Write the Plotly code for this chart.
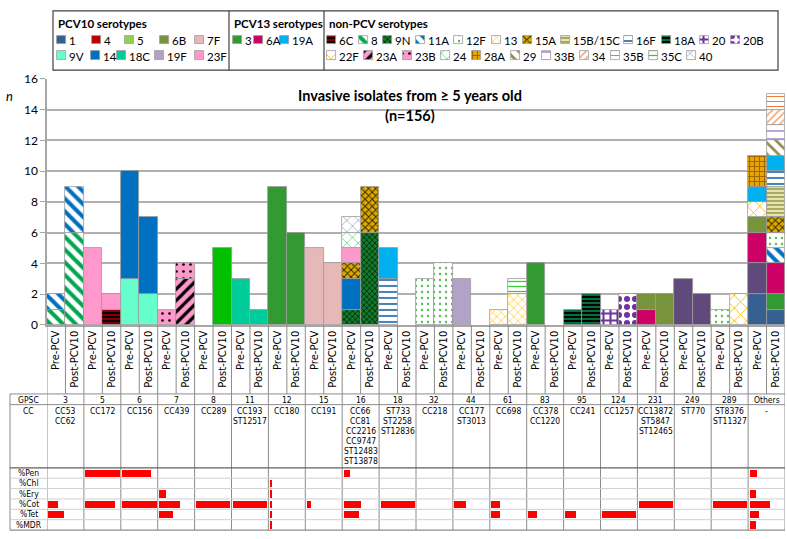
import plotly.graph_objects as go

W, H = 787, 539

# ---------------- data ----------------
groups = ["3", "5", "6", "7", "8", "11", "12", "15", "16", "18", "32", "44",
          "61", "83", "95", "124", "231", "249", "289", "Others"]
periods = ["Pre-PCV", "Post-PCV10"]
cc_labels = [
    ["CC53", "CC62"], ["CC172"], ["CC156"], ["CC439"], ["CC289"], ["CC193", "ST12517"],
    ["CC180"], ["CC191"], ["CC66", "CC81", "CC2216", "CC9747", "ST12483", "ST13878"],
    ["ST733", "ST2258", "ST12836"], ["CC218"], ["CC177", "ST3013"], ["CC698"],
    ["CC378", "CC1220"], ["CC241"], ["CC1257"], ["CC13872", "ST5847", "ST12465"],
    ["ST770"], ["ST8376", "ST11327"], ["-"],
]

# isolate counts per bar: (Pre, Post) pairs for GPSC
#        3    5    6    7    8    11   12   15   16   18   32   44   61   83   95   124  231  249  289  Oth
s_1   = [0,0, 0,0, 0,0, 0,0, 0,0, 0,0, 0,0, 0,0, 0,0, 0,0, 0,0, 0,0, 0,0, 0,0, 0,0, 0,0, 0,0, 0,0, 0,0, 2,1]
s_dp  = [0,0, 0,0, 0,0, 0,0, 0,0, 0,0, 0,0, 0,0, 0,0, 0,0, 0,0, 0,0, 0,0, 0,0, 0,0, 0,0, 0,0, 3,2, 0,0, 2,0]
s_3   = [0,0, 0,0, 0,0, 0,0, 0,0, 0,0, 9,6, 0,0, 0,0, 0,0, 0,0, 0,0, 0,0, 4,0, 0,0, 0,0, 0,0, 0,0, 0,0, 0,1]
s_9V  = [0,0, 0,0, 3,2, 0,0, 0,0, 0,0, 0,0, 0,0, 0,0, 0,0, 0,0, 0,0, 0,0, 0,0, 0,0, 0,0, 0,0, 0,0, 0,0, 0,0]
s_8   = [1,6, 0,0, 0,0, 0,0, 0,0, 0,0, 0,0, 0,0, 0,0, 0,0, 0,0, 0,0, 0,0, 0,0, 0,0, 0,0, 0,0, 0,0, 0,0, 0,0]
s_6A  = [0,0, 0,0, 0,0, 0,0, 0,0, 0,0, 0,0, 0,0, 0,0, 0,0, 0,0, 0,0, 0,0, 0,0, 0,0, 0,0, 1,0, 0,0, 0,0, 2,2]
s_6B  = [0,0, 0,0, 0,0, 0,0, 0,0, 0,0, 0,0, 0,0, 0,0, 0,0, 0,0, 0,0, 0,0, 0,0, 0,0, 0,0, 1,2, 0,0, 0,0, 1,0]
s_6C  = [0,0, 0,1, 0,0, 0,0, 0,0, 0,0, 0,0, 0,0, 0,0, 0,0, 0,0, 0,0, 0,0, 0,0, 0,0, 0,0, 0,0, 0,0, 0,0, 0,0]
s_9N  = [0,0, 0,0, 0,0, 0,0, 0,0, 0,0, 0,0, 0,0, 1,6, 0,0, 0,0, 0,0, 0,0, 0,0, 0,0, 0,0, 0,0, 0,0, 0,0, 0,0]
s_14  = [0,0, 0,0, 7,5, 0,0, 0,0, 0,0, 0,0, 0,0, 2,0, 0,0, 0,0, 0,0, 0,0, 0,0, 0,0, 0,0, 0,0, 0,0, 0,0, 0,0]
s_11A = [1,3, 0,0, 0,0, 0,0, 0,0, 0,0, 0,0, 0,0, 0,0, 0,0, 0,0, 0,0, 0,0, 0,0, 0,0, 0,0, 0,0, 0,0, 0,0, 0,1]
s_12F = [0,0, 0,0, 0,0, 0,0, 0,0, 0,0, 0,0, 0,0, 0,0, 0,0, 3,4, 0,0, 0,0, 0,0, 0,0, 0,0, 0,0, 0,0, 1,0, 0,1]
s_13  = [0,0, 0,0, 0,0, 0,0, 0,0, 0,0, 0,0, 0,0, 0,0, 0,0, 0,0, 0,0, 1,2, 0,0, 0,0, 0,0, 0,0, 0,0, 0,0, 0,0]
s_15A = [0,0, 0,0, 0,0, 0,0, 0,0, 0,0, 0,0, 0,0, 1,3, 0,0, 0,0, 0,0, 0,0, 0,0, 0,0, 0,0, 0,0, 0,0, 0,0, 0,1]
s_15BC= [0,0, 0,0, 0,0, 0,0, 0,0, 0,0, 0,0, 0,0, 0,0, 0,0, 0,0, 0,0, 0,0, 0,0, 0,0, 0,0, 0,0, 0,0, 0,0, 0,2]
s_16F = [0,0, 0,0, 0,0, 0,0, 0,0, 0,0, 0,0, 0,0, 0,0, 3,0, 0,0, 0,0, 0,0, 0,0, 0,0, 0,0, 0,0, 0,0, 0,0, 0,1]
s_22F = [0,0, 0,0, 0,0, 0,0, 0,0, 0,0, 0,0, 0,0, 0,0, 0,0, 0,0, 0,0, 0,0, 0,0, 0,0, 0,0, 0,0, 0,0, 0,2, 1,0]
s_19A = [0,0, 0,0, 0,0, 0,0, 0,0, 0,0, 0,0, 0,0, 0,0, 2,0, 0,0, 0,0, 0,0, 0,0, 0,0, 0,0, 0,0, 0,0, 0,0, 1,1]
s_23A = [0,0, 0,0, 0,0, 0,3, 0,0, 0,0, 0,0, 0,0, 0,0, 0,0, 0,0, 0,0, 0,0, 0,0, 0,0, 0,0, 0,0, 0,0, 0,0, 0,0]
s_23B = [0,0, 0,0, 0,0, 1,1, 0,0, 0,0, 0,0, 0,0, 0,0, 0,0, 0,0, 0,0, 0,0, 0,0, 0,0, 0,0, 0,0, 0,0, 0,0, 0,0]
s_23F = [0,0, 5,1, 0,0, 0,0, 0,0, 0,0, 0,0, 0,0, 1,0, 0,0, 0,0, 0,0, 0,0, 0,0, 0,0, 0,0, 0,0, 0,0, 0,0, 0,0]
s_24  = [0,0, 0,0, 0,0, 0,0, 0,0, 0,0, 0,0, 0,0, 1,0, 0,0, 0,0, 0,0, 0,0, 0,0, 0,0, 0,0, 0,0, 0,0, 0,0, 0,0]
s_40  = [0,0, 0,0, 0,0, 0,0, 0,0, 0,0, 0,0, 0,0, 1,0, 0,0, 0,0, 0,0, 0,0, 0,0, 0,0, 0,0, 0,0, 0,0, 0,0, 0,0]
s_28A = [0,0, 0,0, 0,0, 0,0, 0,0, 0,0, 0,0, 0,0, 0,0, 0,0, 0,0, 0,0, 0,0, 0,0, 0,0, 0,0, 0,0, 0,0, 0,0, 2,0]
s_29  = [0,0, 0,0, 0,0, 0,0, 0,0, 0,0, 0,0, 0,0, 0,0, 0,0, 0,0, 0,0, 0,0, 0,0, 0,0, 0,0, 0,0, 0,0, 0,0, 0,1]
s_33B = [0,0, 0,0, 0,0, 0,0, 0,0, 0,0, 0,0, 0,0, 0,0, 0,0, 0,0, 0,0, 0,0, 0,0, 0,0, 0,0, 0,0, 0,0, 0,0, 0,1]
s_34  = [0,0, 0,0, 0,0, 0,0, 0,0, 0,0, 0,0, 0,0, 0,0, 0,0, 0,0, 0,0, 0,0, 0,0, 0,0, 0,0, 0,0, 0,0, 0,0, 0,1]
s_35B = [0,0, 0,0, 0,0, 0,0, 0,0, 0,0, 0,0, 0,0, 0,0, 0,0, 0,0, 0,0, 0,0, 0,0, 0,0, 0,0, 0,0, 0,0, 0,0, 0,1]
s_35C = [0,0, 0,0, 0,0, 0,0, 0,0, 0,0, 0,0, 0,0, 0,0, 0,0, 0,0, 0,0, 0,1, 0,0, 0,0, 0,0, 0,0, 0,0, 0,0, 0,0]
s_5   = [0,0, 0,0, 0,0, 0,0, 0,5, 0,0, 0,0, 0,0, 0,0, 0,0, 0,0, 0,0, 0,0, 0,0, 0,0, 0,0, 0,0, 0,0, 0,0, 0,0]
s_7F  = [0,0, 0,0, 0,0, 0,0, 0,0, 0,0, 0,0, 5,4, 0,0, 0,0, 0,0, 0,0, 0,0, 0,0, 0,0, 0,0, 0,0, 0,0, 0,0, 0,0]
s_18A = [0,0, 0,0, 0,0, 0,0, 0,0, 0,0, 0,0, 0,0, 0,0, 0,0, 0,0, 0,0, 0,0, 0,0, 1,2, 0,0, 0,0, 0,0, 0,0, 0,0]
s_18C = [0,0, 0,0, 0,0, 0,0, 0,0, 3,1, 0,0, 0,0, 0,0, 0,0, 0,0, 0,0, 0,0, 0,0, 0,0, 0,0, 0,0, 0,0, 0,0, 0,0]
s_19F = [0,0, 0,0, 0,0, 0,0, 0,0, 0,0, 0,0, 0,0, 0,0, 0,0, 0,0, 3,0, 0,0, 0,0, 0,0, 0,0, 0,0, 0,0, 0,0, 0,0]
s_20  = [0,0, 0,0, 0,0, 0,0, 0,0, 0,0, 0,0, 0,0, 0,0, 0,0, 0,0, 0,0, 0,0, 0,0, 0,0, 1,0, 0,0, 0,0, 0,0, 0,0]
s_20B = [0,0, 0,0, 0,0, 0,0, 0,0, 0,0, 0,0, 0,0, 0,0, 0,0, 0,0, 0,0, 0,0, 0,0, 0,0, 0,2, 0,0, 0,0, 0,0, 0,0]

# stacking order, bottom to top
stack = [("1", s_1), ("DP", s_dp), ("3", s_3), ("9V", s_9V), ("8", s_8), ("6A", s_6A),
         ("6B", s_6B), ("6C", s_6C), ("9N", s_9N), ("14", s_14), ("11A", s_11A),
         ("12F", s_12F), ("13", s_13), ("15A", s_15A), ("15B/15C", s_15BC), ("16F", s_16F),
         ("22F", s_22F), ("19A", s_19A), ("23A", s_23A), ("23B", s_23B), ("23F", s_23F),
         ("24", s_24), ("40", s_40), ("28A", s_28A), ("29", s_29), ("33B", s_33B),
         ("34", s_34), ("35B", s_35B), ("35C", s_35C), ("5", s_5), ("7F", s_7F),
         ("18A", s_18A), ("18C", s_18C), ("19F", s_19F), ("20", s_20), ("20B", s_20B)]

# antimicrobial non-susceptibility (% of isolates per GPSC)
drugs = ["%Pen", "%Chl", "%Ery", "%Cot", "%Tet", "%MDR"]
pct_pen = [0, 100, 85, 0, 0, 0, 0, 0, 17, 0, 0, 0, 0, 0, 0, 0, 0, 0, 0, 23]
pct_chl = [0, 0, 0, 0, 0, 0, 7, 0, 0, 0, 0, 0, 0, 0, 0, 0, 0, 0, 0, 0]
pct_ery = [0, 0, 0, 20, 0, 0, 7, 0, 0, 0, 0, 0, 0, 0, 0, 0, 0, 0, 0, 20]
pct_cot = [27, 86, 100, 60, 100, 100, 7, 11, 50, 100, 0, 33, 25, 0, 0, 0, 100, 0, 100, 60]
pct_tet = [45, 0, 0, 40, 0, 0, 7, 0, 44, 0, 0, 0, 25, 25, 33, 100, 0, 0, 0, 27]
pct_mdr = [0, 0, 0, 0, 0, 0, 7, 0, 0, 0, 0, 0, 0, 0, 0, 0, 0, 0, 0, 20]
pct_rows = [pct_pen, pct_chl, pct_ery, pct_cot, pct_tet, pct_mdr]

# legend content
pcv10_rows = [["1", "4", "5", "6B", "7F"], ["9V", "14", "18C", "19F", "23F"]]
pcv13_rows = [["3", "6A", "19A"]]
nonpcv_rows = [["6C", "8", "9N", "11A", "12F", "13", "15A", "15B/15C", "16F", "18A", "20", "20B"],
               ["22F", "23A", "23B", "24", "28A", "29", "33B", "34", "35B", "35C", "40"]]

# ---------------- styles ----------------
styles = {
    "1": dict(bg="#376092"), "4": dict(bg="#c00000"), "5": dict(bg="#00c000"),
    "6B": dict(bg="#77933c"), "7F": dict(bg="#e6b9b8"), "9V": dict(bg="#66ffcc"),
    "14": dict(bg="#0070c0"), "18C": dict(bg="#00cc99"), "19F": dict(bg="#b3a2c7"),
    "23F": dict(bg="#ff99cc"), "3": dict(bg="#339933"), "6A": dict(bg="#cc0066"),
    "19A": dict(bg="#00b0f0"), "DP": dict(bg="#604a7b"),
    "6C": dict(bg="#800000", fg="#000000", shape="-", size=4, sol=0.45),
    "8": dict(bg="#ffffff", fg="#00a650", shape="\\", size=9, sol=0.45),
    "9N": dict(bg="#137a2e", fg="#002200", shape="x", size=4, sol=0.35),
    "11A": dict(bg="#ffffff", fg="#0070c0", shape="\\", size=9, sol=0.45),
    "12F": dict(bg="#ffffff", fg="#55bb55", shape=".", size=6, sol=0.12),
    "13": dict(bg="#ffffff", fg="#ffc000", shape="x", size=6, sol=0.2),
    "15A": dict(bg="#e0a800", fg="#2b2b00", shape="x", size=5, sol=0.35),
    "15B/15C": dict(bg="#e6e6b0", fg="#9a9a50", shape="-", size=4, sol=0.4),
    "16F": dict(bg="#ffffff", fg="#2e75b6", shape="-", size=6, sol=0.3),
    "18A": dict(bg="#00703c", fg="#000000", shape="-", size=4, sol=0.5),
    "20": dict(bg="#ffffff", fg="#7030a0", shape="+", size=7, sol=0.5),
    "20B": dict(bg="#ffffff", fg="#7030a0", shape=".", size=8, sol=0.45),
    "22F": dict(bg="#ffffff", fg="#ffc000", shape="x", size=9, sol=0.2),
    "23A": dict(bg="#ff99cc", fg="#000000", shape="/", size=8, sol=0.4),
    "23B": dict(bg="#ff99cc", fg="#000000", shape=".", size=7, sol=0.12),
    "24": dict(bg="#ffffff", fg="#33cc66", shape="x", size=8, sol=0.15),
    "28A": dict(bg="#e6a800", fg="#a06000", shape="+", size=5, sol=0.35),
    "29": dict(bg="#ffffff", fg="#948a54", shape="\\", size=8, sol=0.35),
    "33B": dict(bg="#ffffff", fg="#7f6fbf", shape="-", size=8, sol=0.15),
    "34": dict(bg="#ffffff", fg="#f4a070", shape="/", size=5, sol=0.3),
    "35B": dict(bg="#ffffff", fg="#ed7d31", shape="-", size=5, sol=0.2),
    "35C": dict(bg="#ffffff", fg="#33cc33", shape="-", size=5, sol=0.25),
    "40": dict(bg="#ffffff", fg="#8497b0", shape="x", size=8, sol=0.15),
}
legend_color_override = {"5": "#92d050"}

def mk(name, legend=False):
    st = styles[name]
    bg = legend_color_override.get(name, st["bg"]) if legend else st["bg"]
    m = dict(color=bg, line=dict(color="#9a9a9a", width=0.8))
    if "shape" in st:
        m["pattern"] = dict(shape=st["shape"], fgcolor=st["fg"], bgcolor=bg, fgopacity=1,
                            size=st["size"], solidity=st["sol"], fillmode="overlay")
    return m

def px(x):
    return x / W

def py(y):
    return 1 - y / H

LF = "Lato, Calibri, sans-serif"
TF = "DejaVu Sans Condensed, Liberation Sans Narrow, Arial Narrow, Liberation Sans, sans-serif"
TS = 8.5
LEG_FS = 11.5
ROW_Y = [33, 49]

# approximate Lato glyph widths (em) for legend layout
CW = {"/": 0.37, "A": 0.68, "B": 0.64, "C": 0.65, "F": 0.57, "N": 0.75, "V": 0.66}

def text_w(s):
    return sum(CW.get(c, 0.58) for c in s) * LEG_FS

# legend layout: boxes and icon positions
legend_boxes = [(53, 229, "PCV10 serotypes"), (229, 324, "PCV13 serotypes"),
                (324, 778, "non-PCV serotypes")]
legend_items = []
pcv10_x = [[57, 92, 125, 160, 195], [57, 91, 117, 155, 195]]
for r, row in enumerate(pcv10_rows):
    for name, x0 in zip(row, pcv10_x[r]):
        legend_items.append((name, x0, ROW_Y[r]))
for name, x0 in zip(pcv13_rows[0], [233, 254, 280]):
    legend_items.append((name, x0, ROW_Y[0]))
for r, row in enumerate(nonpcv_rows):
    x = 327
    for name in row:
        legend_items.append((name, x, ROW_Y[r]))
        x += 11 + text_w(name) + 6.5

# ---------------- figure ----------------
fig = go.Figure()
n_bars = 2 * len(groups)
xs = list(range(n_bars))
for _, v in stack:
    assert len(v) == n_bars
cum = [0] * n_bars
for name, vals in stack:
    ys = [v if v > 0 else None for v in vals]
    fig.add_trace(go.Bar(x=xs, y=ys, base=cum[:], width=1.0, marker=mk(name), name=name,
                         xaxis="x", yaxis="y", showlegend=False))
    cum = [c + v for c, v in zip(cum, vals)]

# resistance bars
for r, vals in enumerate(pct_rows):
    gi = [g for g, v in enumerate(vals) if v > 0]
    fig.add_trace(go.Bar(orientation="h", y=[r + 0.5] * len(gi),
                         x=[vals[g] / 100 * 0.93 for g in gi],
                         base=[g + 0.04 for g in gi], width=0.7,
                         marker=dict(color="#ff0000", line=dict(width=0)),
                         xaxis="x2", yaxis="y2", showlegend=False, name=drugs[r]))

# legend icons
for name, x0, yc in legend_items:
    fig.add_trace(go.Bar(x=[x0 + 4.5], y=[9], base=[yc - 4.5], width=9, marker=mk(name, True),
                         xaxis="x3", yaxis="y3", showlegend=False, hoverinfo="skip"))

shapes = []
annotations = []

# legend boxes + texts
shapes.append(dict(type="rect", xref="x3", yref="y3", x0=53, x1=778, y0=3, y1=64,
                   line=dict(color="#404040", width=1.2)))
for x0, x1, title in legend_boxes:
    if x0 > 53:
        shapes.append(dict(type="line", xref="x3", yref="y3", x0=x0, x1=x0, y0=3, y1=64,
                           line=dict(color="#404040", width=1.2)))
    annotations.append(dict(xref="x3", yref="y3", x=x0 + 3, y=16, text="<b>" + title + "</b>",
                            showarrow=False, xanchor="left", yanchor="middle",
                            font=dict(family=LF, size=11.5, color="#000")))
for name, x0, yc in legend_items:
    annotations.append(dict(xref="x3", yref="y3", x=x0 + 10, y=yc + 0.5, text=name,
                            showarrow=False, xanchor="left", yanchor="middle",
                            font=dict(family=LF, size=LEG_FS, color="#000")))

# title and y label
annotations.append(dict(xref="paper", yref="paper", x=px(410), y=py(90),
                        text="<b>Invasive isolates from ≥ 5 years old</b>", showarrow=False,
                        xanchor="center", yanchor="middle", font=dict(family=LF, size=14.5, color="#000")))
annotations.append(dict(xref="paper", yref="paper", x=px(410), y=py(111),
                        text="<b>(n=156)</b>", showarrow=False,
                        xanchor="center", yanchor="middle", font=dict(family=LF, size=14.5, color="#000")))
annotations.append(dict(xref="paper", yref="paper", x=px(9), y=py(91), text="<i>n</i>",
                        showarrow=False, xanchor="center", yanchor="middle",
                        font=dict(family=LF, size=13, color="#000")))

# separators below the axis and table grid
GRID = "#8c8c8c"
for k in range(n_bars + 1):
    xb = k - 0.5
    y_end = 537 if k % 2 == 0 else 397
    shapes.append(dict(type="line", xref="x", yref="paper", x0=xb, x1=xb, y0=py(326), y1=py(y_end),
                       line=dict(color=GRID, width=1)))
shapes.append(dict(type="line", xref="paper", yref="paper", x0=px(10), x1=px(10), y0=py(397), y1=py(537),
                   line=dict(color=GRID, width=1)))
for yy, col, wd in [(397, GRID, 1), (408, GRID, 1), (473, "#606060", 1.2), (537, GRID, 1.2)]:
    shapes.append(dict(type="line", xref="paper", yref="paper", x0=px(10), x1=px(785), y0=py(yy), y1=py(yy),
                       line=dict(color=col, width=wd)))
for r in range(1, 6):
    shapes.append(dict(type="line", xref="paper", yref="y2", x0=px(10), x1=px(785), y0=r, y1=r,
                       line=dict(color="#d0d0d0", width=1)))

# table texts
annotations.append(dict(xref="paper", yref="paper", x=px(28.5), y=py(403), text="GPSC", showarrow=False,
                        xanchor="center", yanchor="middle", font=dict(family=TF, size=TS, color="#000")))
annotations.append(dict(xref="paper", yref="paper", x=px(28.5), y=py(415), text="CC", showarrow=False,
                        xanchor="center", yanchor="middle", font=dict(family=TF, size=TS, color="#000")))
for g, lab in enumerate(groups):
    annotations.append(dict(xref="x2", yref="paper", x=g + 0.5, y=py(403), text=lab, showarrow=False,
                            xanchor="center", yanchor="middle", font=dict(family=TF, size=TS, color="#000")))
    for j, line in enumerate(cc_labels[g]):
        annotations.append(dict(xref="x2", yref="paper", x=g + 0.5, y=py(415 + 10.2 * j), text=line,
                                showarrow=False, xanchor="center", yanchor="middle",
                                font=dict(family=TF, size=TS, color="#000")))
for r, d in enumerate(drugs):
    annotations.append(dict(xref="paper", yref="y2", x=px(28.5), y=r + 0.5, text=d, showarrow=False,
                            xanchor="center", yanchor="middle", font=dict(family=TF, size=TS, color="#000")))

fig.update_layout(
    width=W, height=H, margin=dict(l=0, r=0, t=0, b=0),
    paper_bgcolor="white", plot_bgcolor="rgba(0,0,0,0)",
    barmode="overlay", bargap=0, showlegend=False,
    xaxis=dict(domain=[px(47), px(785)], range=[-0.5, n_bars - 0.5], tickmode="array",
               tickvals=xs, ticktext=periods * len(groups), tickangle=-90,
               tickfont=dict(family="DejaVu Sans", size=10, color="#000"),
               showline=True, linecolor="#a6a6a6", linewidth=1.5, showgrid=False,
               zeroline=False, ticks="", fixedrange=True),
    yaxis=dict(domain=[py(326), py(73)], range=[0, 16], dtick=2, showgrid=True,
               gridcolor="#b0b0b0", gridwidth=1.5, showline=True, linecolor="#a6a6a6",
               linewidth=1.5, ticks="outside", ticklen=5, tickcolor="#a6a6a6",
               tickfont=dict(family=LF, size=12, color="#000"), zeroline=False),
    xaxis2=dict(domain=[px(47), px(785)], range=[0, len(groups)], visible=False),
    yaxis2=dict(domain=[py(537), py(473)], range=[6, 0], visible=False),
    xaxis3=dict(domain=[0, 1], range=[0, W], visible=False),
    yaxis3=dict(domain=[py(66), 1], range=[66, 0], visible=False),
    shapes=shapes, annotations=annotations,
)

fig.write_html("out.html", config={"displayModeBar": False},
               post_script="document.body.style.margin='0';document.body.style.overflow='hidden';")
